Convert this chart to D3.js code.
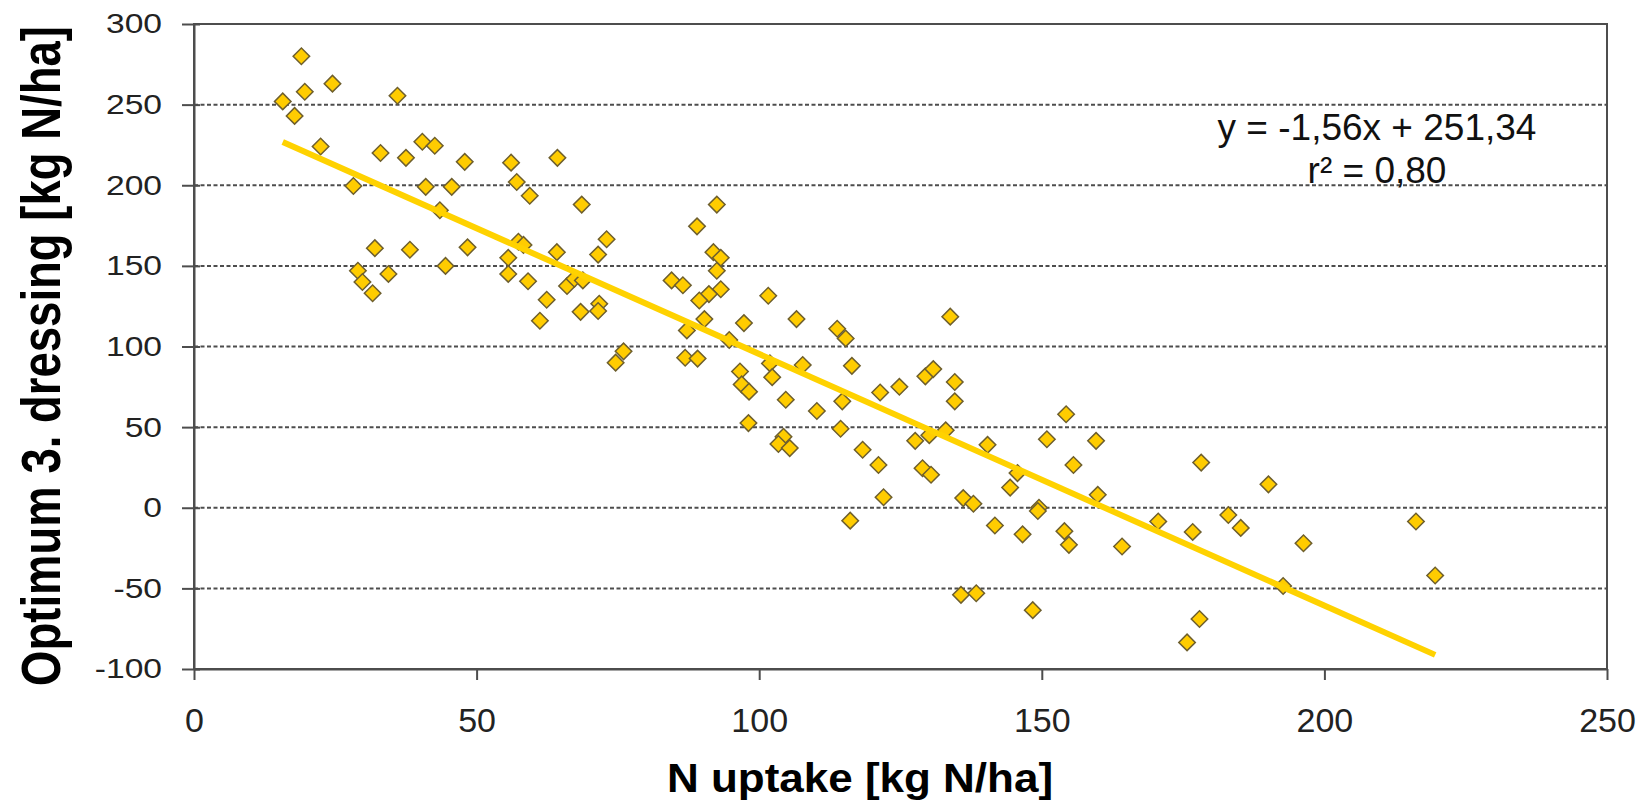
<!DOCTYPE html>
<html>
<head>
<meta charset="utf-8">
<script src="https://cdn.jsdelivr.net/npm/d3@7"></script>
<style>
  body { margin: 0; background: #fff; }
  svg { display: block; font-family: "Liberation Sans", Arial, sans-serif; }
</style>
</head>
<body>
<svg id="chart" width="1645" height="803"></svg>
<script>
// N uptake [kg N/ha] of each plot
const nUptake = [
  19, 15.7, 19.6, 24.5, 36, 17.8, 22.4, 33, 37.5, 40.4, 42.6, 47.9, 56.1, 64.3, 57.1, 59.4, 68.6, 28.2, 41, 45.6,
  43.5, 32, 38.2, 48.4, 29, 29.8, 31.6, 34.4, 44.5, 57.4, 58.3, 55.6, 55.6, 59.1, 64.2, 62.4, 61.2, 68.4, 71.5, 73,
  66, 67.3, 68.8, 71.7, 71.5, 84.5, 76, 74.6,
  92.5, 89, 91.9, 93.2, 92.5, 86.5, 93.2, 91.1, 89.4, 101.6, 90.3, 87.2, 97.3, 106.6, 133.8, 113.8, 115.3, 94.7,
  86.9, 89.1, 96.6, 101.9, 102.3, 107.7, 96.9, 98.2, 104.7, 116.4, 110.2, 98.1, 114.7, 121.4, 124.8, 129.4, 130.8,
  134.6, 134.6, 114.4, 104.3, 103.4, 105.4, 118.3, 121.1, 122, 116.1, 127.6, 130.1, 133, 128.9, 130.4, 140.4, 154.3,
  150.9, 159.6, 155.6, 145.7, 144.4, 159.9, 136.1, 137.9, 149.5, 149.3, 141.7, 146.6, 154, 154.8, 164.2, 170.6,
  135.7, 138.4, 148.4,
  178.2, 190.1, 183, 185.2, 176.7, 196.3, 216.2, 219.6, 192.7, 177.9, 175.7
];

// Optimum 3rd dressing [kg N/ha] of the same plots
const optimumDressing = [
  280, 252, 258, 263, 255.5, 243, 224, 220, 217, 227, 224.5, 214.5, 214, 217, 202, 193.5, 188, 199.5, 199, 199,
  184.5, 161, 160, 161.5, 147, 140, 133, 145, 150, 165, 163, 155, 145, 140.5, 158.5, 129, 116, 121.5, 157, 166.5,
  137.5, 142, 141, 126.5, 122, 141, 97, 90,
  188, 174.5, 158.5, 155, 147, 138, 135.5, 132.5, 128.5, 131.5, 117, 110, 114.5, 117, 118.5, 111, 105, 104,
  93, 92.5, 84.5, 89.5, 81, 88.5, 76.5, 72, 67, 88, 60, 52.5, 66, 71.5, 75, 81.5, 86,
  78, 66, 49, 44, 39.5, 37, 36, 26.5, 6.5, -8, 41.5, 45, 48, 24.5, 20.5, 39, 58,
  42.5, 41.5, 26.5, 21.5, 12.5, 8, 6, 2.5, 0, -2, -11, -16.5, -14.5, -23, -24, -8.5,
  -54, -53, -63.5,
  28, 14.5, -4.5, -12.5, -15, -22, -8.5, -42, -48.5, -69, -83.5
];

const xTicks = [0, 50, 100, 150, 200, 250];
const yTicks = [-100, -50, 0, 50, 100, 150, 200, 250, 300];
const gridValues = [-50, 0, 50, 100, 150, 200, 250];

// linear fit reported on the chart
const trendSlope = -1.56;
const trendIntercept = 251.34;
const equationLines = ["y = -1,56x + 251,34", "r\u00B2 = 0,80"];

const xTitle = "N uptake [kg N/ha]";
const yTitle = "Optimum 3. dressing [kg N/ha]";

const points = nUptake.map((v, i) => ({ x: v, y: optimumDressing[i] }));

const svg = d3.select("#chart");
const plot = { left: 194, right: 1607, top: 24, bottom: 669 };

const x = d3.scaleLinear().domain([0, 250]).range([plot.left, plot.right]);
const y = d3.scaleLinear().domain([-100, 300]).range([plot.bottom, plot.top]);

const axisColor = "#4d4d4d";
const plainNumber = d => String(d);   // keep an ASCII hyphen for negatives

// dashed horizontal gridlines
svg.append("g")
  .selectAll("line")
  .data(gridValues)
  .join("line")
  .attr("x1", plot.left).attr("x2", plot.right)
  .attr("y1", d => y(d)).attr("y2", d => y(d))
  .attr("stroke", axisColor)
  .attr("stroke-width", 2)
  .attr("stroke-dasharray", "4,2.5");

// plot frame
svg.append("rect")
  .attr("x", plot.left).attr("y", plot.top)
  .attr("width", plot.right - plot.left)
  .attr("height", plot.bottom - plot.top)
  .attr("fill", "none")
  .attr("stroke", axisColor)
  .attr("stroke-width", 2);

// y axis
const yAxis = svg.append("g")
  .attr("transform", `translate(${plot.left},0)`)
  .call(d3.axisLeft(y).tickValues(yTicks).tickFormat(plainNumber)
    .tickSizeInner(12).tickSizeOuter(0).tickPadding(20));
yAxis.select(".domain").attr("stroke", axisColor).attr("stroke-width", 2);
yAxis.selectAll(".tick line").attr("stroke", axisColor).attr("stroke-width", 2).attr("x1", 6);
yAxis.selectAll(".tick text")
  .attr("x", 0)
  .attr("transform", "translate(-32,0) scale(1.2,1)")
  .attr("font-size", 28)
  .attr("font-family", "'Liberation Sans', Arial, sans-serif")
  .attr("fill", "#222");

// x axis
const xAxis = svg.append("g")
  .attr("transform", `translate(0,${plot.bottom})`)
  .call(d3.axisBottom(x).tickValues(xTicks).tickFormat(plainNumber)
    .tickSizeInner(11).tickSizeOuter(0).tickPadding(28));
xAxis.select(".domain").attr("stroke", axisColor).attr("stroke-width", 2);
xAxis.selectAll(".tick line").attr("stroke", axisColor).attr("stroke-width", 2);
xAxis.selectAll(".tick text")
  .attr("font-size", 34)
  .attr("font-family", "'Liberation Sans', Arial, sans-serif")
  .attr("fill", "#222");

// data points as diamonds
const diamond = d3.symbol().type(d3.symbolSquare).size(136);
svg.append("g")
  .selectAll("path")
  .data(points)
  .join("path")
  .attr("d", diamond)
  .attr("transform", d => `translate(${x(d.x)},${y(d.y)}) rotate(45)`)
  .attr("fill", "#ffcc00")
  .attr("stroke", "#6e5f2e")
  .attr("stroke-width", 1.5);

// trend line across the observed N uptake range
const xExtent = d3.extent(nUptake);
const trend = xExtent.map(v => ({ x: v, y: trendSlope * v + trendIntercept }));
svg.append("path")
  .datum(trend)
  .attr("d", d3.line().x(d => x(d.x)).y(d => y(d.y)))
  .attr("fill", "none")
  .attr("stroke", "#ffd200")
  .attr("stroke-width", 6);

// regression equation
svg.append("g")
  .selectAll("text")
  .data(equationLines)
  .join("text")
  .attr("x", 1377)
  .attr("y", (d, i) => 140 + i * 43)
  .attr("text-anchor", "middle")
  .attr("font-size", 37)
  .attr("fill", "#111")
  .text(d => d);

// axis titles
svg.append("text")
  .attr("transform", "translate(860,792) scale(1.1,1)")
  .attr("text-anchor", "middle")
  .attr("font-size", 40)
  .attr("font-weight", "bold")
  .attr("fill", "#000")
  .text(xTitle);

svg.append("text")
  .attr("transform", "translate(60,356) rotate(-90) scale(1,1.2)")
  .attr("text-anchor", "middle")
  .attr("font-size", 45.5)
  .attr("font-weight", "bold")
  .attr("fill", "#000")
  .text(yTitle);
</script>
</body>
</html>
